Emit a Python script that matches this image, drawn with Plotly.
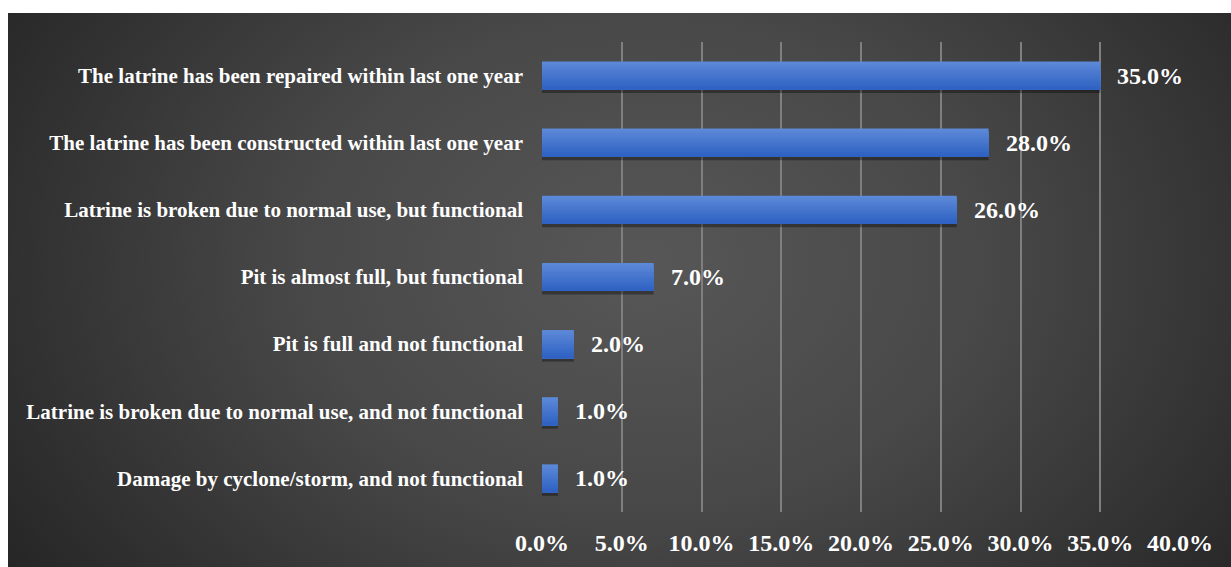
import base64
import plotly.graph_objects as go

# Latrine condition categories and shares (%)
categories = [
    "The latrine has been repaired within last one year",
    "The latrine has been constructed within last one year",
    "Latrine is broken due to normal use, but functional",
    "Pit is almost full, but functional",
    "Pit is full and not functional",
    "Latrine is broken due to normal use, and not functional",
    "Damage by cyclone/storm, and not functional",
]
shares = [35.0, 28.0, 26.0, 7.0, 2.0, 1.0, 1.0]
tick_values = [0, 5, 10, 15, 20, 25, 30, 35, 40]
tick_labels = [f"{v:.1f}%" for v in tick_values]

W, H = 1231, 567
ML, MR, MT, MB = 542, 51, 42, 55
plot_w = W - ML - MR
plot_h = H - MT - MB

FONT = "Liberation Serif"

# Dark radial-gradient backdrop as an inline SVG
svg = (
    '<svg xmlns="http://www.w3.org/2000/svg" width="1223" height="554" '
    'viewBox="0 0 1223 554" preserveAspectRatio="none">'
    '<defs><radialGradient id="g" cx="0.52" cy="0.45" r="0.62" '
    'gradientTransform="translate(0.52,0.45) scale(1,1.6) translate(-0.52,-0.45)">'
    '<stop offset="0" stop-color="#575757"/>'
    '<stop offset="0.45" stop-color="#484848"/>'
    '<stop offset="1" stop-color="#262626"/>'
    '</radialGradient></defs>'
    '<rect width="1223" height="554" fill="url(#g)"/></svg>'
)
bg_uri = "data:image/svg+xml;base64," + base64.b64encode(svg.encode()).decode()

fig = go.Figure()

BAR_W = 0.42

# soft drop shadow under each bar
fig.add_trace(
    go.Bar(
        y=categories, x=shares, orientation="h",
        width=BAR_W, offset=-BAR_W / 2 + 0.05,
        marker=dict(color="rgba(0,0,0,0.35)", line=dict(width=0)),
        hoverinfo="skip",
    )
)

# vertical gradient on the bars: each band runs to the bar's bottom edge,
# later (lower, darker) bands painted over earlier ones
top_rgb = (0x5C, 0x88, 0xD8)
bot_rgb = (0x2F, 0x62, 0xC2)
n_bands = 12
band = BAR_W / n_bands
for i in range(n_bands):
    t = i / (n_bands - 1)
    r, g, b = (round(a + (c - a) * t) for a, c in zip(top_rgb, bot_rgb))
    fig.add_trace(
        go.Bar(
            y=categories, x=shares, orientation="h",
            width=BAR_W - i * band, offset=-BAR_W / 2 + i * band,
            marker=dict(color=f"rgb({r},{g},{b})", line=dict(width=0)),
            hoverinfo="skip",
        )
    )

for cat, val in zip(categories, shares):
    fig.add_annotation(
        x=val, y=cat, xref="x", yref="y",
        text=f"{val:.1f}%", showarrow=False,
        xanchor="left", yanchor="middle", xshift=15, yshift=0,
        font=dict(family=FONT, size=24, color="white", weight="bold"),
    )

bx0 = (8 - ML) / plot_w
by_top = (H - MB - 13) / plot_h
fig.add_layout_image(
    source=bg_uri, xref="paper", yref="paper",
    x=bx0, y=by_top, sizex=(W - 8) / plot_w, sizey=(H - 13) / plot_h,
    xanchor="left", yanchor="top", sizing="stretch", layer="below",
)

fig.update_layout(
    width=W, height=H,
    margin=dict(l=ML, r=MR, t=MT, b=MB, pad=0),
    paper_bgcolor="white",
    plot_bgcolor="rgba(0,0,0,0)",
    barmode="overlay",
    showlegend=False,
    xaxis=dict(
        range=[0, 40], tickvals=tick_values, ticktext=tick_labels,
        showgrid=True, gridcolor="#7f7f7f", gridwidth=1.5,
        zeroline=False, showline=False, ticks="",
        ticklabelstandoff=14,
        tickfont=dict(family=FONT, size=24, color="white", weight="bold"),
        fixedrange=True,
    ),
    yaxis=dict(
        autorange="reversed", showgrid=False, zeroline=False, showline=False,
        ticks="", ticklabelstandoff=18,
        tickfont=dict(family=FONT, size=21, color="white", weight="bold"),
        fixedrange=True,
    ),
)

fig.write_html("out.html", config={"displayModeBar": False})
